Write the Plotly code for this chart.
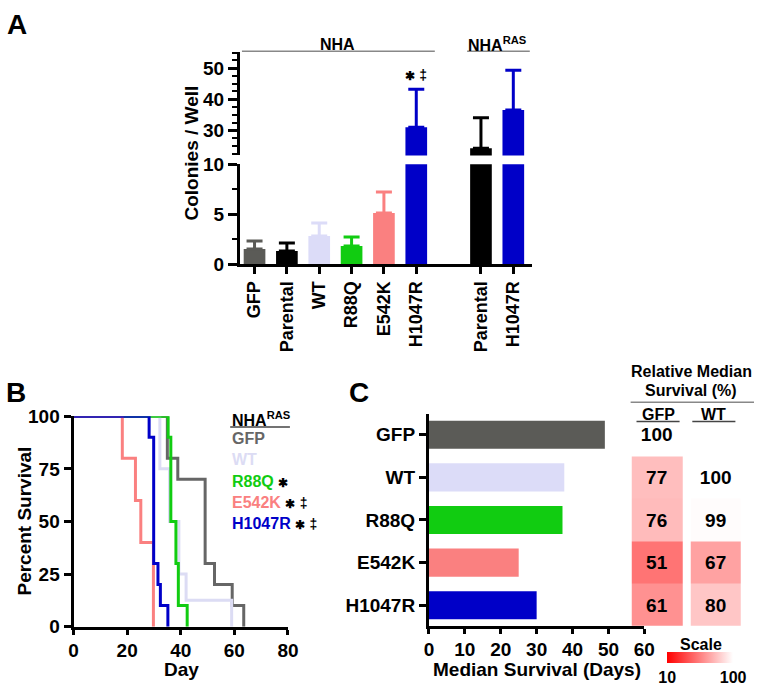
import plotly.graph_objects as go

W, H = 765, 690
def fx(px): return px / W
def fy(py): return 1 - py / H

FONT = "Liberation Sans"
def bf(size, color="black"):
    return dict(family=FONT, size=size, color=color, weight="bold")

# ---------------- Panel A data ----------------
a_categories = ["GFP", "Parental", "WT", "R88Q", "E542K", "H1047R", "Parental", "H1047R"]
a_means = [1.5, 1.3, 2.8, 1.8, 5.1, 31.0, 24.2, 36.5]
a_sd = [0.8, 0.8, 1.3, 0.9, 2.1, 12.2, 9.8, 12.8]
a_slots = [0, 1, 2, 3, 4, 5, 7, 8]
a_colors = ["#5b5b57", "#000000", "#dcdcf8", "#11cc11", "#fa8080", "#0000c8", "#000000", "#0000c8"]

# ---------------- Panel B data ----------------
gfp_days = [0, 35, 38.9, 49.1, 52.6, 59.2, 63.5]
gfp_surv = [100, 80, 70, 30, 20, 10, 0]
wt_days = [0, 32.2, 35.8, 39.3, 42, 59]
wt_surv = [100, 75, 50, 25, 12.5, 0]
r88q_days = [0, 35.3, 36.3, 38.2, 39.1, 42.4]
r88q_surv = [100, 90, 50, 30, 10, 0]
e542k_days = [0, 18.2, 23.1, 25.1, 29.8]
e542k_surv = [100, 80, 60, 40, 0]
h1047r_days = [0, 28.2, 29.9, 31.5, 32.4, 35.2]
h1047r_surv = [100, 90, 30, 20, 10, 0]
b_colors = {"GFP": "#666666", "WT": "#dcdcf4", "R88Q": "#11cc11", "E542K": "#fa8080", "H1047R": "#0000c8"}

# ---------------- Panel C data ----------------
c_groups = ["GFP", "WT", "R88Q", "E542K", "H1047R"]
c_median = [49, 37.7, 37.2, 25, 30]
rel_gfp = [100, 77, 76, 51, 61]
rel_wt = [None, 100, 99, 67, 80]
c_colors = ["#5b5b57", "#dcdcf8", "#11cc11", "#fa8080", "#0000c8"]

STAR = "<span style='font-size:12px'>✱</span>"
DAG = "<span style='font-size:14px'>‡</span>"

fig = go.Figure()

# ---- Panel A: broken axis bar chart ----
for i in range(len(a_categories)):
    for ya in ["y", "y2"]:
        fig.add_trace(go.Bar(
            x=[a_slots[i]], y=[a_means[i]], width=0.67,
            marker=dict(color=a_colors[i], line=dict(width=0)),
            error_y=dict(type="data", symmetric=False, array=[a_sd[i]], arrayminus=[0],
                         color=a_colors[i], thickness=3, width=8),
            xaxis="x", yaxis=ya, showlegend=False, hoverinfo="skip"))

# ---- Panel B: survival curves ----
for name, d, s in [("GFP", gfp_days, gfp_surv), ("WT", wt_days, wt_surv),
                   ("R88Q", r88q_days, r88q_surv), ("E542K", e542k_days, e542k_surv),
                   ("H1047R", h1047r_days, h1047r_surv)]:
    fig.add_trace(go.Scatter(x=d, y=s, mode="lines", line=dict(color=b_colors[name], width=3, shape="hv"),
                             xaxis="x2", yaxis="y3", showlegend=False, cliponaxis=False, name=name))

# ---- Panel C: median survival bars ----
fig.add_trace(go.Bar(x=c_median, y=list(range(len(c_groups))), orientation="h", width=0.66,
                     marker=dict(color=c_colors, line=dict(width=0)),
                     xaxis="x3", yaxis="y4", showlegend=False))

# ---- Panel C: heatmap ----
z = [[rel_gfp[i], rel_wt[i]] for i in range(len(c_groups))]
txt = [["" if v is None else str(v) for v in row] for row in z]
fig.add_trace(go.Heatmap(
    x=[0, 1], y=list(range(len(c_groups))), z=z, text=txt, texttemplate="%{text}",
    textfont=bf(19), zmin=10, zmax=100,
    colorscale=[[0, "#ff0000"], [1, "#ffffff"]], xgap=8, ygap=0,
    xaxis="x4", yaxis="y4", hoverinfo="skip",
    colorbar=dict(orientation="h", x=fx(710), xanchor="center", y=fy(662), yanchor="top",
                  len=66, lenmode="pixels", thickness=11, thicknessmode="pixels",
                  tickvals=[10, 100], ticktext=["10", "100"], tickfont=bf(16),
                  ticks="", outlinewidth=0, xpad=0, ypad=0)))

axis_common = dict(showline=True, linewidth=3, linecolor="black", ticks="outside",
                   tickwidth=3, tickcolor="black", showgrid=False, zeroline=False)

TF = 19
fig.update_layout(
    width=W, height=H, margin=dict(l=0, r=0, t=0, b=0),
    paper_bgcolor="white", plot_bgcolor="rgba(0,0,0,0)",
    barmode="overlay", font=dict(family=FONT, color="black"),
    xaxis=dict(domain=[fx(240), fx(538)], range=[-0.45, 8.57], anchor="y",
               tickvals=a_slots, ticktext=a_categories, tickangle=-90, ticklen=7,
               tickfont=bf(18), **axis_common),
    yaxis=dict(domain=[fy(262), fy(159)], range=[0, 10], anchor="x", tickvals=[0, 5, 10],
               ticklen=9, tickfont=bf(TF),
               minor=dict(dtick=2.5, tick0=0, ticklen=5, tickwidth=2, ticks="outside", tickcolor="black"),
               **axis_common),
    yaxis2=dict(domain=[fy(150), fy(43)], range=[21.9, 55.3], anchor="x", tickvals=[30, 40, 50],
                ticklen=9, tickfont=bf(TF),
                minor=dict(dtick=2.5, tick0=0, ticklen=5, tickwidth=2, ticks="outside", tickcolor="black"),
                **axis_common),
    xaxis2=dict(domain=[fx(70), fx(289)], range=[0, 80], anchor="y3", tickvals=[0, 20, 40, 60, 80],
                ticklen=5, tickfont=bf(TF), **axis_common),
    yaxis3=dict(domain=[fy(636), fy(419)], range=[0, 100], anchor="x2", tickvals=[0, 25, 50, 75, 100],
                ticklen=7, tickfont=bf(TF), **axis_common),
    xaxis3=dict(domain=[fx(433), fx(653)], range=[0, 60], anchor="y4", tickvals=[0, 10, 20, 30, 40, 50, 60],
                ticklen=5, tickfont=bf(TF), **axis_common),
    yaxis4=dict(domain=[fy(635), fy(417)], range=[4.48, -0.48], anchor="x3",
                tickvals=list(range(len(c_groups))), ticktext=c_groups,
                ticklen=7, tickfont=bf(TF), **axis_common),
    xaxis4=dict(domain=[fx(636), fx(756)], range=[-0.5, 1.5], anchor="y4", visible=False),
)

ann = []
def A(text, x, y, size, color="black", xanchor="center", angle=0):
    ann.append(dict(text=text, x=fx(x), y=fy(y), xref="paper", yref="paper", showarrow=False,
                    xanchor=xanchor, yanchor="middle", font=bf(size, color), textangle=angle))

# Panel letters
A("A", 12, 15, 28)
A("B", 11, 395, 28)
A("C", 362, 395, 28)
# Panel A texts
A("NHA", 340, 36, 16)
A("NHA<sup>RAS</sup>", 503, 35, 16)
A("Colonies / Well", 190, 148, 19, angle=-90)
ann.append(dict(text=f"{STAR} {DAG}", x=a_slots[5], y=a_means[5] + a_sd[5], xref="x", yref="y2",
                showarrow=False, yanchor="bottom", yshift=4, font=bf(15)))
# Panel B texts
A("Percent Survival", 20, 527, 19, angle=-90)
A("Day", 180, 680, 19)
A("NHA<sup>RAS</sup>", 230, 422, 16, xanchor="left")
leg = [("GFP", "", 442), ("WT", "", 464), ("R88Q", f" {STAR}", 486),
       ("E542K", f" {STAR} {DAG}", 508), ("H1047R", f" {STAR} {DAG}", 530)]
for name, mark, yy in leg:
    A(f"<span style='color:{b_colors[name]}'>{name}</span>{mark}", 230, yy, 16, xanchor="left")
# Panel C texts
A("Median Survival (Days)", 543, 680, 19)
A("Relative Median", 701, 373, 16)
A("Survival (%)", 701, 392, 16)
A("GFP", 667, 417, 16)
A("WT", 724, 417, 16)
A("Scale", 711, 654, 16)
fig.update_layout(annotations=ann)

shapes = []
def L(x0, x1, y, color="#888888", w=1.5):
    shapes.append(dict(type="line", xref="paper", yref="paper", x0=fx(x0), x1=fx(x1),
                       y0=fy(y), y1=fy(y), line=dict(color=color, width=w)))
L(242, 439, 42.5)
L(472, 536, 42.5)
L(230, 291, 430, color="#444444")
L(639, 765, 404.5)
L(645, 689, 424.5, color="#444444")
L(702, 746, 424.5, color="#444444")
fig.update_layout(shapes=shapes)

fig.write_html("out.html", config={"displayModeBar": False},
               post_script="document.body.style.margin='0';document.body.style.overflow='hidden';")
